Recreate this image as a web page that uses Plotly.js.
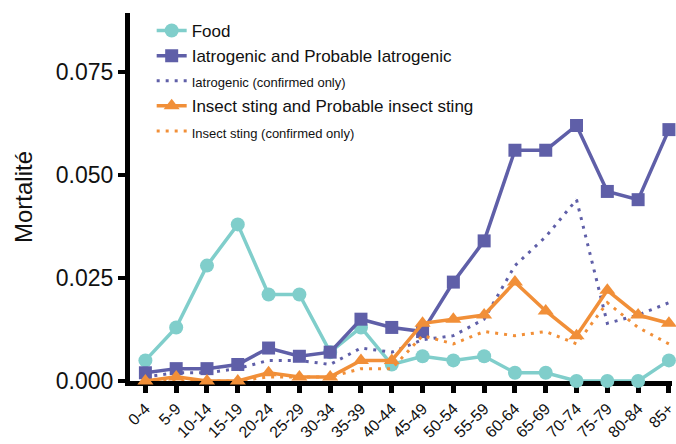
<!DOCTYPE html>
<html>
<head>
<meta charset="utf-8">
<script src="https://cdn.plot.ly/plotly-3.0.1.min.js"></script>
<style>
  html, body { margin: 0; padding: 0; background: #fff; }
  #chart { width: 676px; height: 444px; }
</style>
</head>
<body>
<div id="chart"></div>
<script>
// Age groups
const ageGroups = ["0-4","5-9","10-14","15-19","20-24","25-29","30-34","35-39","40-44",
                   "45-49","50-54","55-59","60-64","65-69","70-74","75-79","80-84","85+"];

// Mortality by cause
const food            = [0.005,0.013,0.028,0.038,0.021,0.021,0.007,0.013,0.004,0.006,0.005,0.006,0.002,0.002,0.000,0.000,0.000,0.005];
const iatroProbable   = [0.002,0.003,0.003,0.004,0.008,0.006,0.007,0.015,0.013,0.012,0.024,0.034,0.056,0.056,0.062,0.046,0.044,0.061];
const iatroConfirmed  = [0.001,0.002,0.002,0.003,0.005,0.005,0.004,0.008,0.007,0.010,0.011,0.015,0.028,0.035,0.044,0.014,0.016,0.019];
const insectProbable  = [0.000,0.001,0.000,0.000,0.002,0.001,0.001,0.005,0.005,0.014,0.015,0.016,0.024,0.017,0.011,0.022,0.016,0.014];
const insectConfirmed = [0.000,0.000,0.000,0.000,0.001,0.001,0.001,0.003,0.003,0.011,0.009,0.012,0.011,0.012,0.009,0.019,0.013,0.009];

const yTicks = [0, 0.025, 0.05, 0.075];

const TEAL = "#80CECB";
const PURPLE = "#5F5FA8";
const ORANGE = "#F18F38";
const FONT = "Liberation Sans, Arial, Helvetica, sans-serif";

const small = s => '<span style="font-size:13px">' + s + '</span>';
const DOTS = "3px,6px";

const traces = [
  { name: "Food", y: food, mode: "lines+markers",
    line: { color: TEAL, width: 3.5 },
    marker: { symbol: "circle", size: 14, color: TEAL } },
  { name: "Iatrogenic and Probable Iatrogenic", y: iatroProbable, mode: "lines+markers",
    line: { color: PURPLE, width: 3.5 },
    marker: { symbol: "square", size: 13, color: PURPLE } },
  { name: small("Iatrogenic (confirmed only)"), y: iatroConfirmed, mode: "lines",
    line: { color: PURPLE, width: 3, dash: DOTS } },
  { name: "Insect sting and Probable insect sting", y: insectProbable, mode: "lines+markers",
    line: { color: ORANGE, width: 3.5 },
    marker: { symbol: "triangle-up", size: 14, color: ORANGE } },
  { name: small("Insect sting (confirmed only)"), y: insectConfirmed, mode: "lines",
    line: { color: ORANGE, width: 3, dash: DOTS } }
].map(t => Object.assign({ x: ageGroups, type: "scatter", cliponaxis: false }, t));

const layout = {
  width: 676, height: 444,
  margin: { l: 130, r: 4, t: 13, b: 63 },
  paper_bgcolor: "#fff", plot_bgcolor: "#fff",
  font: { family: FONT, color: "#111" },
  showlegend: true,
  legend: {
    x: 0.04, y: 1.0, xanchor: "left", yanchor: "top",
    font: { size: 17, family: FONT, color: "#111" },
    bgcolor: "rgba(0,0,0,0)", itemwidth: 30, tracegroupgap: 0
  },
  xaxis: {
    type: "category", range: [-0.5, 17.1],
    showgrid: false, zeroline: false,
    showline: true, linecolor: "#000", linewidth: 5,
    ticks: "outside", ticklen: 7, tickwidth: 5, tickcolor: "#000",
    tickangle: -45, tickfont: { size: 16, family: FONT, color: "#111" },
    layer: "below traces"
  },
  yaxis: {
    range: [0, 0.0893],
    tickvals: yTicks, tickformat: ".3f",
    showgrid: false, zeroline: false,
    showline: true, linecolor: "#000", linewidth: 5,
    ticks: "outside", ticklen: 7, tickwidth: 4, tickcolor: "#000",
    tickfont: { size: 23, family: FONT, color: "#111" },
    title: { text: "Mortalité", font: { size: 24, family: FONT, color: "#111" }, standoff: 18 },
    layer: "below traces"
  }
};

Plotly.newPlot("chart", traces, layout, { displayModeBar: false, staticPlot: true });
</script>
</body>
</html>
